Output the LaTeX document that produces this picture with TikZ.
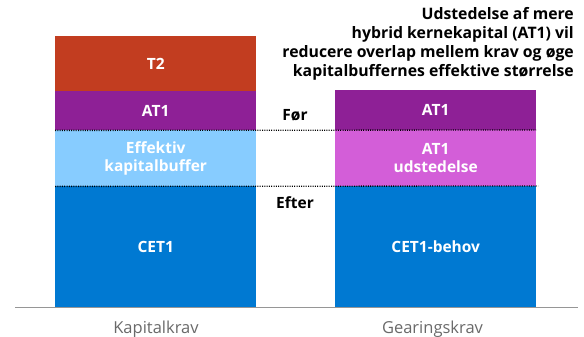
\documentclass[tikz,border=0pt]{standalone}
\usepackage{fontspec}
\setmainfont{Open Sans}
\definecolor{ctwo}{RGB}{194,61,32}
\definecolor{cat}{RGB}{142,32,150}
\definecolor{clb}{RGB}{135,204,255}
\definecolor{ccet}{RGB}{0,121,210}
\definecolor{cud}{RGB}{211,94,216}
\definecolor{caxis}{RGB}{150,150,150}
\definecolor{clab}{RGB}{105,105,105}
\tikzset{
  seg/.style={rectangle, draw=none, inner sep=0pt, minimum width=201pt, text=white, font=\fontsize{15.5}{18.5}\selectfont\bfseries, align=center, anchor=north west},
  divline/.style={line width=1.3pt, dash pattern=on 1pt off 1.3pt, black},
  sidelab/.style={font=\fontsize{15.5}{18}\selectfont\bfseries},
  axlab/.style={font=\fontsize{16.5}{19}\selectfont, text=clab}
}
\begin{document}
\begin{tikzpicture}[x=1pt,y=-1pt]
\useasboundingbox (0,0) rectangle (584,337);
% left bar
\node[seg, fill=ctwo, minimum height=55pt] (t2) at (55,36) {T2};
\node[seg, fill=cat, minimum height=39pt] (at1l) at (55,91) {AT1};
\node[seg, fill=clb, minimum height=56pt] (eff) at (55,130) {Effektiv\\kapitalbuffer};
\node[seg, fill=ccet, minimum height=121.7pt] (cet) at (55,186) {CET1};
% right bar
\node[seg, fill=cat, minimum height=40pt] (at1r) at (335,90) {AT1};
\node[seg, fill=cud, minimum height=56pt] (ud) at (335,130) {AT1\\udstedelse};
\node[seg, fill=ccet, minimum height=121.7pt] (cetr) at (335,186) {CET1-behov};
% dotted lines
\coordinate (d1e) at (536,130);
\coordinate (d2e) at (538,186);
\draw[divline] (at1l.south west) -- (d1e);
\draw[divline] (eff.south west) -- (d2e);
% axis
\coordinate (axl) at (15,307.7);
\coordinate (axr) at (578,307.7);
\draw[caxis, line width=1.4pt] (axl) -- (axr);
% labels
\node[sidelab] (foer) at (295,115) {Før};
\node[sidelab] (efter) at (295,203) {Efter};
\node[axlab] (kk) at (156,329) {Kapitalkrav};
\node[axlab] (gk) at (432.5,329) {Gearingskrav};
\node[font=\fontsize{15.8}{19}\selectfont\bfseries, align=right, anchor=north east, inner sep=0pt] (title) at (574,7.5) {Udstedelse af mere\\hybrid kernekapital (AT1) vil\\reducere overlap mellem krav og øge\\kapitalbuffernes effektive størrelse};
\end{tikzpicture}
\end{document}
